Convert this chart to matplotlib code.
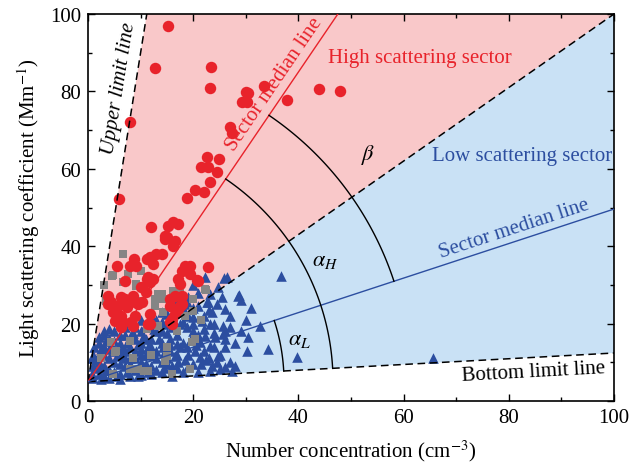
import numpy as np
import matplotlib
matplotlib.use("Agg")
import matplotlib.pyplot as plt

plt.rcParams['font.family'] = ['Liberation Serif', 'DejaVu Serif']
plt.rcParams['mathtext.fontset'] = 'stix'

# sector geometry (all lines start from the same origin point)
origin_y = 5.0
upper_slope = 8.5      # upper limit line
high_med_slope = 2.0   # high sector median line
divide_slope = 0.95    # boundary between the two sectors
low_med_slope = 0.446  # low sector median line
bottom_slope = 0.074   # bottom limit line

# high scattering points (red circles)
high_pts = [
    (15.3, 96.8), (12.7, 86.0), (23.3, 86.2), (23.2, 81.0), (30.0, 79.8), (30.5, 79.6),
    (29.2, 77.2), (30.2, 77.2), (33.5, 81.5), (37.8, 77.9), (44.0, 80.6), (48.0, 80.0),
    (7.9, 72.0), (27.0, 70.9), (27.3, 69.2), (22.6, 63.0), (24.9, 62.5), (21.5, 60.4),
    (22.9, 60.4), (24.5, 59.1), (23.1, 56.7), (20.3, 54.6), (22.1, 54.1), (18.8, 52.4),
    (5.9, 52.2), (12.0, 44.9), (15.2, 45.1), (16.1, 46.3), (17.2, 45.7), (14.7, 41.9),
    (13.0, 38.0), (11.7, 37.1), (12.4, 35.4), (8.7, 36.7), (9.1, 35.0), (5.6, 35.0),
    (11.4, 32.0), (11.7, 30.7), (10.1, 29.4), (11.1, 28.1), (3.8, 27.2), (6.3, 26.8),
    (8.6, 27.2), (4.4, 25.5), (15.0, 42.3), (16.5, 41.4), (16.2, 40.1), (18.4, 35.0),
    (19.3, 35.0), (17.8, 33.7), (19.4, 32.8), (22.9, 34.5), (21.0, 31.1), (17.5, 30.2),
    (16.5, 27.2), (17.8, 27.2), (15.6, 26.4), (3.8, 25.1), (5.7, 24.6), (8.2, 25.5),
    (9.5, 25.1), (4.8, 22.9), (6.3, 22.0), (8.2, 20.3), (8.9, 22.0), (11.7, 22.5),
    (11.7, 19.9), (6.3, 19.0), (15.6, 20.3), (17.2, 23.8), (16.5, 22.5), (15.9, 21.2),
    (17.8, 25.1), (14.6, 42.7), (7.0, 31.1), (11.2, 31.5), (12.4, 31.5), (17.2, 31.5),
    (20.7, 31.3), (7.4, 24.2), (10.2, 25.5), (6.7, 20.3), (8.6, 19.5), (11.5, 19.9),
    (15.9, 19.9), (5.1, 20.7), (7.0, 26.4), (15.6, 24.6), (17.5, 24.6), (8.0, 35.0),
    (11.2, 36.7), (14.0, 38.0),
]

# intermediate points (grey squares)
mid_pts = [
    (6.7, 38.0), (4.6, 32.4), (7.6, 32.8), (6.7, 30.7), (9.2, 30.2), (13.3, 27.6),
    (14.3, 26.4), (9.5, 25.9), (22.2, 28.9), (20.0, 26.4), (14.0, 27.6), (16.2, 28.5),
    (3.5, 25.9), (12.7, 24.6), (14.3, 22.9), (13.3, 19.5), (4.4, 15.2), (5.4, 13.0),
    (9.5, 8.3), (11.4, 7.8), (7.9, 8.3), (20.0, 23.3), (20.3, 16.0), (19.7, 15.2),
    (15.0, 13.9), (15.0, 11.7), (19.4, 8.3), (15.9, 7.0), (14.6, 10.4), (4.8, 32.6),
    (9.1, 29.8), (22.4, 28.8), (13.7, 27.4), (17.5, 28.5), (4.2, 25.1), (10.6, 7.8),
    (5.1, 12.6), (4.8, 7.0), (11.2, 18.6), (12.7, 26.4), (3.0, 30.0), (10.0, 33.5),
    (18.5, 22.0), (12.0, 12.0), (8.0, 15.5), (2.5, 11.0), (17.0, 18.0), (21.5, 21.0),
    (8.5, 11.0),
]

# low scattering points (blue triangles)
low_pts = [
    (22.2, 32.0), (26.4, 32.0), (24.8, 29.4), (23.2, 27.6), (25.4, 26.8), (28.6, 27.2),
    (22.9, 25.5), (26.0, 23.8), (22.6, 25.5), (24.5, 25.1), (23.5, 22.9), (20.0, 21.6),
    (21.6, 20.7), (23.2, 19.9), (25.7, 19.5), (17.5, 19.9), (18.8, 19.0), (22.2, 16.9),
    (24.1, 16.5), (25.7, 17.3), (21.3, 15.2), (23.2, 14.3), (18.8, 13.9), (20.3, 13.0),
    (21.3, 11.3), (24.8, 11.7), (15.6, 16.0), (16.9, 14.7), (14.3, 13.9), (15.6, 13.0),
    (17.2, 10.0), (20.0, 9.6), (15.0, 9.6), (23.2, 7.8), (26.0, 8.7), (27.3, 7.8),
    (25.1, 8.3), (32.7, 19.5), (30.5, 16.5), (30.3, 13.0), (34.3, 13.4), (39.7, 11.3),
    (14.0, 7.4), (36.7, 32.4), (65.5, 11.0), (25.9, 31.7), (28.8, 27.4),
    (1, 6), (2, 7), (3, 6.5), (4, 8), (2, 10), (3, 12), (5, 10), (6, 7), (7, 9), (8, 11),
    (5, 13), (6, 15), (4, 16), (7, 17), (8, 14), (9, 8), (10, 10), (11, 12), (12, 9),
    (10, 15), (12, 16), (13, 13), (14, 18), (9, 19), (11, 20), (13, 21), (3, 14), (1, 9),
    (2, 12), (6, 12), (8, 6.5), (10, 6.8), (12, 7), (14, 10), (7, 19), (5, 18), (3, 17),
    (2, 15), (4, 11), (9, 13), (11, 16), (13, 18), (15, 20), (16, 22), (18, 24), (14, 23),
    (12, 22), (19, 27), (17, 26), (20, 30), (21, 28), (3, 9), (5, 7.5), (6, 9.5), (7, 13),
    (9, 16), (10, 18), (12, 14), (14, 15), (15, 11), (16, 9), (17, 17), (18, 15), (19, 12),
    (20, 18), (21, 17), (22, 13), (23, 11), (24, 14), (25, 12), (26, 14), (27, 10), (28, 9),
    (1, 12), (2, 8.5), (4, 6), (6, 5.8), (8, 9.5), (10, 12), (16, 6.5), (18, 7.5), (19, 22),
    (8, 20.5), (10, 21), (5, 15.5), (15, 17.5), (13, 11), (11, 9.5), (17, 12), (22, 22),
    (20, 24), (12.5, 18.5), (9, 11), (7, 11), (4, 13.5), (3, 18), (6, 20), (2, 16.5),
    (24, 20), (26, 18), (27, 22), (29, 18), (28, 15), (30, 21), (31, 24), (29, 26),
    (0.8, 7), (1.5, 10.5), (2.5, 13.5), (1.2, 14), (0.7, 11), (3.5, 15.5), (4.5, 14.5),
    (5.5, 11.5), (6.5, 13.5), (7.5, 15), (8.5, 17.5), (9.5, 14.5), (10.5, 16.5), (11.5, 14),
    (12.5, 12), (13.5, 16), (14.5, 12.5), (15.5, 14.5), (16.5, 11.5), (17.5, 14), (18.5, 10.5),
    (19.5, 16), (20.5, 14.5), (21.5, 9.5), (22.5, 10.5), (23.5, 9), (24.5, 10), (13, 8),
    (14.5, 8.5), (11.5, 7.5), (9.5, 6.5), (7.5, 7.5), (5.5, 6.5), (3.5, 8), (2.5, 5.8),
    (17, 8.5), (19, 9), (21, 7.5), (4, 18.5), (6, 17), (8, 16.5), (10, 13.5), (12, 19.5),
    (14, 20.5), (16, 19), (18, 20.5), (20, 20), (22, 18.5), (24, 17.5), (26, 16), (27, 19),
    (23, 23.5), (21, 24.5), (19, 25), (17, 23), (15, 22.5),
]

RED = '#e8232b'
BLUE = '#2c4ea0'
GREY = '#858585'
FS = 15

fig = plt.figure(figsize=(6.43, 4.64), dpi=100)
ax = fig.add_axes([88 / 643, 62 / 464, 526 / 643, 387 / 464])
ax.set_xlim(0, 100)
ax.set_ylim(0, 100)

# pixels per data unit, used to draw arcs as true circles on screen
sx = 526 / 100
sy = 387 / 100

x_up = (100 - origin_y) / upper_slope
ax.fill([0, x_up, 100], [origin_y, 100, 100], color='#f9c8c9', lw=0, zorder=0)
ax.fill([0, 100, 100], [origin_y, origin_y + divide_slope * 100, origin_y + bottom_slope * 100],
        color='#c9e1f5', lw=0, zorder=0)

for pts, mk, col, s in [(low_pts, '^', BLUE, 58), (mid_pts, 's', GREY, 38), (high_pts, 'o', RED, 68)]:
    arr = np.array(pts)
    ax.scatter(arr[:, 0], arr[:, 1], marker=mk, color=col, s=s, lw=0, zorder=2)

dash = (0, (5, 3))
ax.plot([0, x_up], [origin_y, 100], color='k', ls=dash, lw=1.1, zorder=3)
ax.plot([0, 100], [origin_y, origin_y + divide_slope * 100], color='k', ls=dash, lw=1.1, zorder=3)
ax.plot([0, 100], [origin_y, origin_y + bottom_slope * 100], color='k', ls=dash, lw=1.1, zorder=3)
x_hm = (100 - origin_y) / high_med_slope
ax.plot([0, x_hm], [origin_y, 100], color=RED, lw=1.0, zorder=3)
ax.plot([0, 100], [origin_y, origin_y + low_med_slope * 100], color=BLUE, lw=1.0, zorder=3)


def arc(r_px, m1, m2):
    a1 = np.arctan(m1 * sy / sx)
    a2 = np.arctan(m2 * sy / sx)
    t = np.linspace(a1, a2, 120)
    ax.plot(r_px * np.cos(t) / sx, origin_y + r_px * np.sin(t) / sy, color='k', lw=1.0, zorder=3)


def line_label(s, m, xc, off_px, **kw):
    # text running along a sector line, shifted off_px pixels to its left side
    th = np.arctan(m * sy / sx)
    x = xc - np.sin(th) * off_px / sx
    y = origin_y + m * xc + np.cos(th) * off_px / sy
    ax.text(x, y, s, rotation=np.degrees(th), rotation_mode='anchor',
            ha='center', va='center', fontsize=FS, **kw)


arc(196, bottom_slope, low_med_slope)
arc(245, bottom_slope, high_med_slope)
arc(322, low_med_slope, high_med_slope)

line_label('Upper limit line', upper_slope, 8.85, 16, style='italic')
line_label('Sector median line', high_med_slope, 37.5, 13, color=RED)
line_label('Sector median line', low_med_slope, 81.8, 13, color=BLUE)
line_label('Bottom limit line', bottom_slope, 84.6, -14)
ax.text(63.1, 88.8, 'High scattering sector', fontsize=FS, color=RED, ha='center', va='center')
ax.text(82.5, 63.4, 'Low scattering sector', fontsize=FS, color=BLUE, ha='center', va='center')
ax.text(53.3, 63.8, r'$\beta$', fontsize=16, ha='center', va='center')
ax.text(45.0, 36.2, r'$\alpha_H$', fontsize=16, ha='center', va='center')
ax.text(40.2, 15.8, r'$\alpha_L$', fontsize=16, ha='center', va='center')

ax.set_xticks(np.arange(0, 101, 20))
ax.set_yticks(np.arange(0, 101, 20))
ax.set_xticks(np.arange(10, 100, 20), minor=True)
ax.set_yticks(np.arange(10, 100, 20), minor=True)
ax.tick_params(which='both', direction='in', top=True, right=True, labelsize=FS, width=1)
ax.tick_params(which='major', length=5, pad=5)
ax.tick_params(which='minor', length=3)
for sp in ax.spines.values():
    sp.set_linewidth(1.2)

ax.set_xlabel(r'Number concentration (cm$^{-3}$)', fontsize=FS, labelpad=8)
ax.set_ylabel(r'Light scattering coefficient (Mm$^{-1}$)', fontsize=FS, labelpad=6)

fig.savefig('out.png', dpi=100)
